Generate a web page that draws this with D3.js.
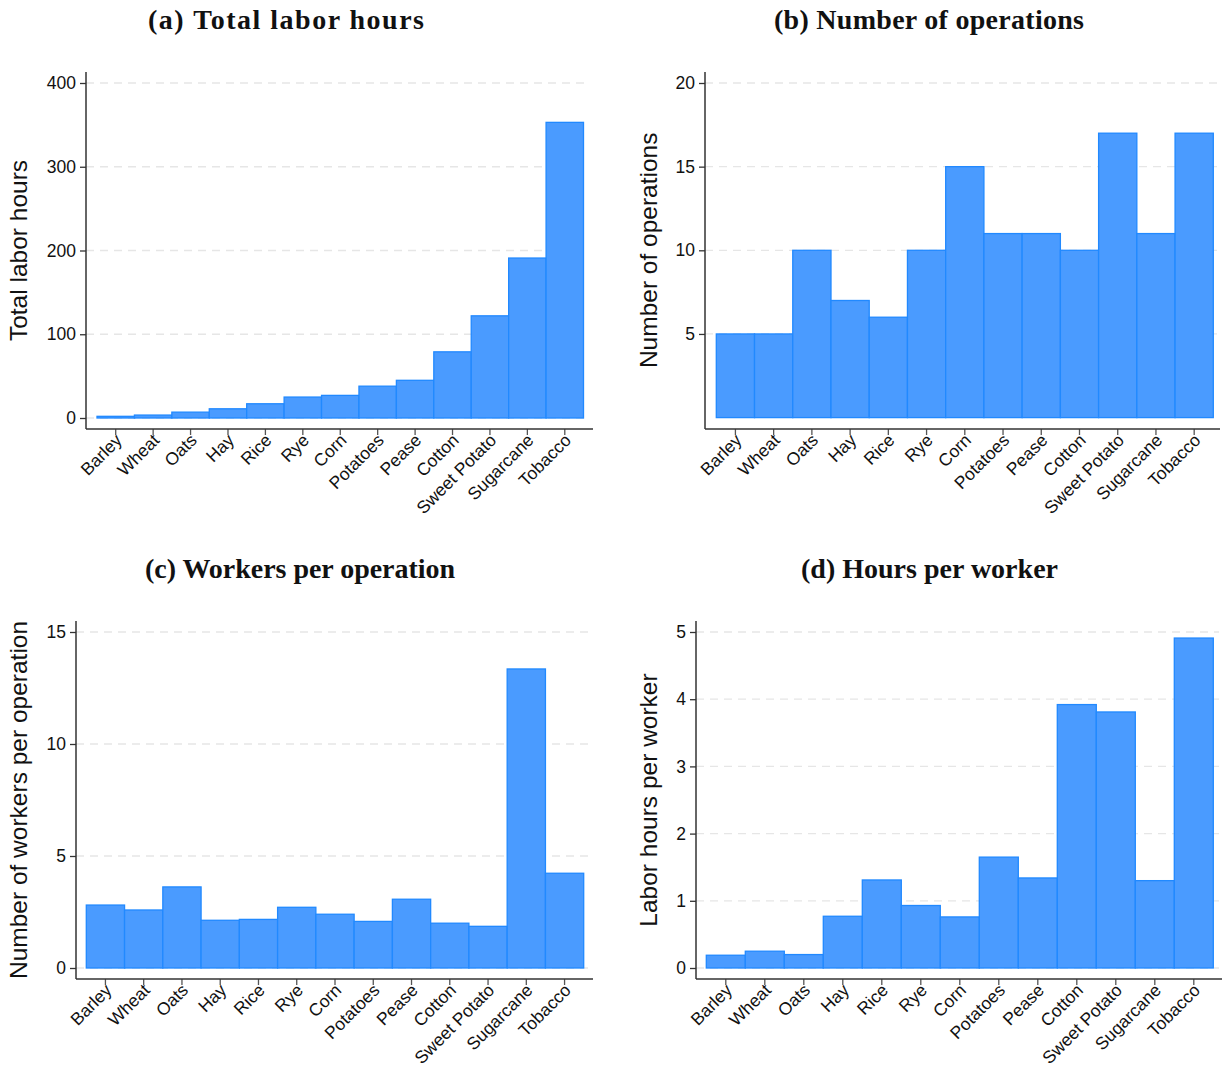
<!DOCTYPE html>
<html>
<head>
<meta charset="utf-8">
<script src="https://cdn.jsdelivr.net/npm/d3@7"></script>
<style>
  body { margin: 0; background: #fff; }
  svg { display: block; }
  .tick text { font-family: "Liberation Sans", Arial, sans-serif; fill: #111; }
  .panel-title { font-family: "Liberation Serif", "Times New Roman", serif; font-weight: bold; font-size: 28px; fill: #111; }
  .axis-title { font-family: "Liberation Sans", Arial, sans-serif; font-size: 24.5px; fill: #111; }
</style>
</head>
<body>
<div id="chart"></div>
<script>
// categories shared by all four panels
const crops = ["Barley", "Wheat", "Oats", "Hay", "Rice", "Rye", "Corn",
  "Potatoes", "Pease", "Cotton", "Sweet Potato", "Sugarcane", "Tobacco"]

// values
const totalHours = [2, 3.5, 7, 11, 17, 25, 27, 38, 45, 79, 122, 191, 353]
const numOperations = [5, 5, 10, 7, 6, 10, 15, 11, 11, 10, 17, 11, 17]
const workersPerOp = [2.81, 2.59, 3.62, 2.13, 2.17, 2.71, 2.4, 2.08, 3.07, 2.0, 1.86, 13.35, 4.23]
const hoursPerWorker = [0.19, 0.25, 0.2, 0.77, 1.31, 0.93, 0.76, 1.65, 1.34, 3.92, 3.81, 1.3, 4.91]

// y ticks per panel
const ticksA = [0, 100, 200, 300, 400]
const ticksB = [5, 10, 15, 20]
const ticksC = [0, 5, 10, 15]
const ticksD = [0, 1, 2, 3, 4, 5]

const barFill = "#4a9bff"
const barStroke = "#2189ff"

const width = 1225
const height = 1068

const svg = d3.select("#chart")
  .append("svg")
  .attr("width", width)
  .attr("height", height)

const panels = [
  { title: "(a) Total labor hours", titleW: 276, yLabel: "Total labor hours", values: totalHours, ticks: ticksA,
    titleX: 286, titleY: 29, axisX: 86, barX0: 97, barX1: 583.5, axisEnd: 593,
    yTopAxis: 72, y0: 418, yMaxPx: 83, xAxisY: 429, labelX: 27 },
  { title: "(b) Number of operations", titleW: 310, yLabel: "Number of operations", values: numOperations, ticks: ticksB,
    titleX: 929, titleY: 29, axisX: 705, barX0: 716.3, barX1: 1213.3, axisEnd: 1220,
    yTopAxis: 72, y0: 417.6, yMaxPx: 83, xAxisY: 429, labelX: 657 },
  { title: "(c) Workers per operation", titleW: 310, yLabel: "Number of workers per operation", values: workersPerOp, ticks: ticksC,
    titleX: 300, titleY: 578, axisX: 76, barX0: 86.3, barX1: 583.7, axisEnd: 593,
    yTopAxis: 621, y0: 968, yMaxPx: 632, xAxisY: 979, labelX: 27 },
  { title: "(d) Hours per worker", titleW: 257, yLabel: "Labor hours per worker", values: hoursPerWorker, ticks: ticksD,
    titleX: 929.5, titleY: 578, axisX: 696, barX0: 706.3, barX1: 1213.3, axisEnd: 1222,
    yTopAxis: 621, y0: 968, yMaxPx: 632, xAxisY: 979, labelX: 657 },
]

panels.forEach(p => drawPanel(p))

function drawPanel(p) {
  const g = svg.append("g")
  const yMax = d3.max(p.ticks)

  const x = d3.scaleBand()
    .domain(crops)
    .range([p.barX0, p.barX1])
    .padding(0)

  const y = d3.scaleLinear()
    .domain([0, yMax])
    .range([p.y0, p.yMaxPx])

  // title (serif, a bit wider than Times so stretch the spacing)
  g.append("text")
    .attr("class", "panel-title")
    .attr("x", p.titleX - p.titleW / 2)
    .attr("y", p.titleY)
    .attr("textLength", p.titleW)
    .attr("lengthAdjust", "spacing")
    .text(p.title)

  // dashed grid lines
  g.append("g")
    .selectAll("line")
    .data(p.ticks)
    .join("line")
    .attr("x1", p.axisX)
    .attr("x2", p.axisEnd - 3)
    .attr("y1", d => y(d))
    .attr("y2", d => y(d))
    .attr("stroke", "#e6e6e6")
    .attr("stroke-width", 1.3)
    .attr("stroke-dasharray", "8,6")

  // bars
  g.append("g")
    .selectAll("rect")
    .data(p.values)
    .join("rect")
    .attr("x", (d, i) => x(crops[i]))
    .attr("width", x.bandwidth())
    .attr("y", d => y(d))
    .attr("height", d => y(0) - y(d))
    .attr("fill", barFill)
    .attr("stroke", barStroke)
    .attr("stroke-width", 1.3)

  // y axis
  const yAxis = d3.axisLeft(y)
    .tickValues(p.ticks)
    .tickSize(6)
    .tickPadding(4)
    .tickFormat(d3.format("d"))

  g.append("g")
    .attr("transform", `translate(${p.axisX},0)`)
    .call(yAxis)
    .call(a => a.select(".domain").remove())
    .call(a => a.selectAll(".tick line").attr("stroke", "#333").attr("stroke-width", 1.3))
    .call(a => a.selectAll(".tick text").style("font-size", "17.5px"))

  // x axis
  const xAxis = d3.axisBottom(x)
    .tickSize(6)
    .tickSizeOuter(0)

  g.append("g")
    .attr("transform", `translate(0,${p.xAxisY})`)
    .call(xAxis)
    .call(a => a.select(".domain").remove())
    .call(a => a.selectAll(".tick line").attr("stroke", "#555").attr("stroke-width", 1.3))
    .call(a => a.selectAll(".tick text")
      .style("font-size", "17.5px")
      .attr("text-anchor", "end")
      .attr("x", 0)
      .attr("y", 0)
      .attr("dy", "0.35em")
      .attr("transform", "translate(3,8) rotate(-45)"))

  // axis lines (Stata-style, detached from the data area)
  g.append("line")
    .attr("x1", p.axisX).attr("x2", p.axisX)
    .attr("y1", p.yTopAxis).attr("y2", p.xAxisY)
    .attr("stroke", "#333").attr("stroke-width", 1.5)

  g.append("line")
    .attr("x1", p.axisX).attr("x2", p.axisEnd)
    .attr("y1", p.xAxisY).attr("y2", p.xAxisY)
    .attr("stroke", "#333").attr("stroke-width", 1.5)

  // y axis title
  g.append("text")
    .attr("class", "axis-title")
    .attr("text-anchor", "middle")
    .attr("transform", `translate(${p.labelX},${(p.y0 + p.yMaxPx) / 2}) rotate(-90)`)
    .text(p.yLabel)
}
</script>
</body>
</html>
